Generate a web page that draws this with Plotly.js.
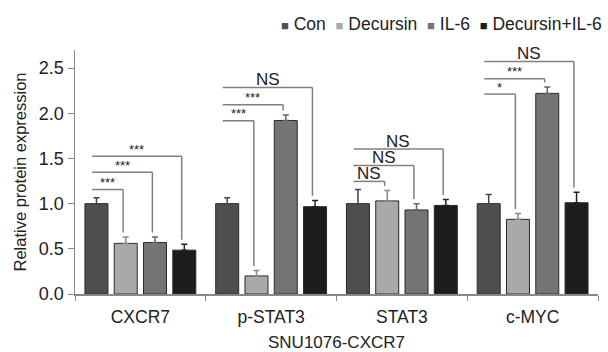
<!DOCTYPE html>
<html>
<head>
<meta charset="utf-8">
<script src="https://cdn.plot.ly/plotly-3.0.1.min.js"></script>
<style>html,body{margin:0;padding:0;background:#fff;}#chart{width:608px;height:352px;}</style>
</head>
<body>
<div id="chart"></div>
<script>
// ---- data ----
const categories = ['CXCR7', 'p-STAT3', 'STAT3', 'c-MYC'];
const seriesNames = ['Con', 'Decursin', 'IL-6', 'Decursin+IL-6'];
const conVals = [1.0, 1.0, 1.0, 1.0];
const decVals = [0.56, 0.20, 1.03, 0.826];
const il6Vals = [0.57, 1.92, 0.93, 2.22];
const decIl6Vals = [0.485, 0.966, 0.98, 1.01];
const conErr = [0.065, 0.065, 0.156, 0.10];
const decErr = [0.07, 0.06, 0.115, 0.064];
const il6Err = [0.06, 0.06, 0.07, 0.07];
const decIl6Err = [0.065, 0.07, 0.066, 0.117];
// significance brackets: Con vs Decursin, Con vs IL-6, Con vs Decursin+IL-6
const sigLabels = [['***', '***', '***'], ['***', '***', 'NS'], ['NS', 'NS', 'NS'], ['*', '***', 'NS']];
const sigLevels = [[1.156, 1.347, 1.523], [1.917, 2.094, 2.285], [1.246, 1.423, 1.604], [2.212, 2.381, 2.573]];
const xTitle = 'SNU1076-CXCR7';
const yTitle = 'Relative protein expression';

// ---- styles ----
const colors = ['#4f4f4f', '#a9a9a9', '#747474', '#1c1c1c'];
const errColors = ['#444444', '#8a8a8a', '#666666', '#222222'];
const FONT = 'Liberation Sans, Arial, Helvetica, sans-serif';
const bargap = 0.104;

const vals = [conVals, decVals, il6Vals, decIl6Vals];
const errs = [conErr, decErr, il6Err, decIl6Err];

const traces = vals.map((v, i) => ({
  type: 'bar',
  name: seriesNames[i],
  x: categories,
  y: v,
  showlegend: false,
  marker: {color: colors[i], line: {color: '#2a2a2a', width: 1}},
  error_y: {type: 'data', symmetric: false, array: errs[i], arrayminus: errs[i].map(() => 0),
            color: errColors[i], thickness: 1.5, width: 3},
  hoverinfo: 'skip'
}));

const slot = (1 - bargap) / 4;
const barCenter = (c, s) => c + (s - 1.5) * slot;

const shapes = [];
const annotations = [];
const lineStyle = {color: '#808080', width: 1.5};
categories.forEach((cat, c) => {
  sigLevels[c].forEach((lev, k) => {
    const s = k + 1;
    const x0 = c - 0.37;
    const x1 = barCenter(c, s) - 0.02;
    const yEnd = vals[s][c] + errs[s][c] + 0.05;
    shapes.push({type: 'line', xref: 'x', yref: 'y', x0: x0, x1: x1, y0: lev, y1: lev, line: lineStyle});
    shapes.push({type: 'line', xref: 'x', yref: 'y', x0: x1, x1: x1, y0: lev, y1: yEnd, line: lineStyle});
    const isNS = sigLabels[c][k] === 'NS';
    annotations.push({
      xref: 'x', yref: 'y', x: (x0 + x1) / 2, y: lev, text: sigLabels[c][k], showarrow: false,
      yanchor: 'middle', yshift: isNS ? 8 : 7,
      font: {family: FONT, size: isNS ? 17 : 13, color: '#222'}
    });
  });
});

// legend row (top right)
const legendText = seriesNames.map((n, i) =>
  '<span style="color:' + colors[i] + ';font-size:13px">\u25A0</span>\u00A0' + n).join('\u00A0\u00A0');
annotations.push({
  xref: 'paper', yref: 'paper', x: 1.012, y: 1.107, xanchor: 'right', yanchor: 'middle',
  text: legendText, showarrow: false, font: {family: FONT, size: 17.5, color: '#222'}
});

const layout = {
  width: 608, height: 352,
  margin: {l: 75, r: 10, t: 50, b: 57.5},
  paper_bgcolor: '#fff', plot_bgcolor: '#fff',
  barmode: 'group', bargap: bargap, bargroupgap: 0.215,
  font: {family: FONT, size: 17, color: '#222'},
  xaxis: {
    type: 'category', tickson: 'boundaries', ticks: 'outside', ticklen: 5, tickcolor: '#888',
    showline: true, linecolor: '#888', linewidth: 1.5, showgrid: false, zeroline: false,
    ticklabelstandoff: 6,
    tickfont: {family: FONT, size: 17.5, color: '#222'},
    title: {text: xTitle, font: {family: FONT, size: 17, color: '#222'}, standoff: 18}
  },
  yaxis: {
    range: [0, 2.7], dtick: 0.5, tickformat: '.1f', ticks: 'outside', ticklen: 6, tickcolor: '#888',
    showline: true, linecolor: '#888', linewidth: 1.5, showgrid: false, zeroline: false,
    tickfont: {family: FONT, size: 18, color: '#222'},
    title: {text: yTitle, font: {family: FONT, size: 16.5, color: '#222'}, standoff: 8}
  },
  shapes: shapes,
  annotations: annotations
};

Plotly.newPlot('chart', traces, layout, {displayModeBar: false, staticPlot: true});
</script>
</body>
</html>
